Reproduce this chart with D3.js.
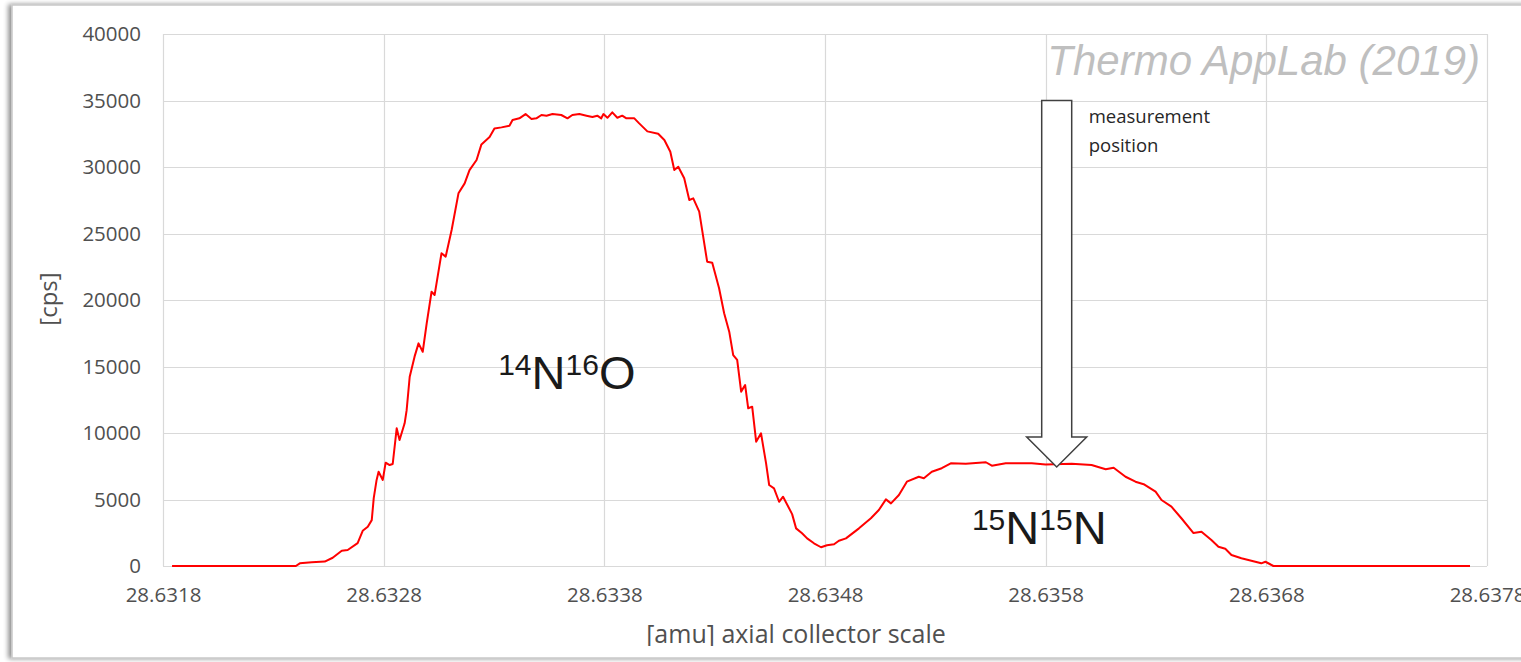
<!DOCTYPE html>
<html>
<head>
<meta charset="utf-8">
<script src="https://cdn.jsdelivr.net/npm/d3@7"></script>
<style>
  html, body { margin: 0; padding: 0; background: #fff; }
  svg { display: block; }
</style>
</head>
<body>
<div id="chart"></div>
<script>
// scan: axial collector position [amu] and intensity [cps]
const amu = [
  28.631841, 28.632402, 28.632420, 28.632474, 28.632533, 28.632569, 28.632610, 28.632637,
  28.632682, 28.632705, 28.632728, 28.632746, 28.632755, 28.632768, 28.632777, 28.632796,
  28.632809, 28.632827, 28.632841, 28.632859, 28.632872, 28.632895, 28.632904, 28.632918,
  28.632940, 28.632958, 28.632977, 28.632995, 28.633017, 28.633031, 28.633062, 28.633081,
  28.633108, 28.633139, 28.633167, 28.633189, 28.633221, 28.633243, 28.633280, 28.633302,
  28.633334, 28.633370, 28.633384, 28.633415, 28.633443, 28.633470, 28.633492, 28.633515,
  28.633538, 28.633565, 28.633605, 28.633633, 28.633655, 28.633687, 28.633719, 28.633746,
  28.633768, 28.633786, 28.633796, 28.633814, 28.633836, 28.633859, 28.633881, 28.633900,
  28.633936, 28.633958, 28.633995, 28.634044, 28.634072, 28.634099, 28.634117, 28.634135,
  28.634162, 28.634185, 28.634203, 28.634230, 28.634248, 28.634266, 28.634289, 28.634320,
  28.634343, 28.634366, 28.634384, 28.634402, 28.634420, 28.634438, 28.634452, 28.634470,
  28.634488, 28.634510, 28.634533, 28.634547, 28.634569, 28.634592, 28.634610, 28.634651,
  28.634669, 28.634696, 28.634719, 28.634750, 28.634782, 28.634809, 28.634841, 28.634863,
  28.634895, 28.634954, 28.635008, 28.635044, 28.635076, 28.635099, 28.635135, 28.635171,
  28.635225, 28.635248, 28.635284, 28.635329, 28.635370, 28.635438, 28.635529, 28.635556,
  28.635619, 28.635737, 28.635800, 28.635918, 28.636008, 28.636072, 28.636108, 28.636162,
  28.636207, 28.636244, 28.636298, 28.636325, 28.636370, 28.636415, 28.636470, 28.636506,
  28.636551, 28.636583, 28.636614, 28.636642, 28.636687, 28.636732, 28.636777, 28.636796,
  28.636832, 28.637723
];
const cps = [
  0, 0, 200, 280, 330, 620, 1150, 1200,
  1720, 2650, 2950, 3450, 5100, 6470, 7090, 6470,
  7770, 7590, 7670, 10350, 9470, 10730, 11700, 14230,
  15740, 16740, 16110, 18250, 20620, 20380, 23510, 23260,
  25260, 28020, 28770, 29770, 30530, 31700, 32250, 32900,
  32980, 33100, 33530, 33660, 33980, 33610, 33660, 33910,
  33860, 33980, 33910, 33660, 33910, 33980, 33860, 33760,
  33860, 33660, 33980, 33700, 34110, 33700, 33860, 33660,
  33660, 33280, 32680, 32500, 32030, 31150, 29770, 30020,
  29150, 27520, 27640, 26640, 24760, 22880, 22800, 20880,
  19000, 17620, 15860, 15490, 13110, 13610, 11860, 11980,
  9350, 9980, 7720, 6090, 5840, 4830, 5210, 3900,
  2830, 2460, 2080, 1710, 1410, 1560, 1630, 1900,
  2080, 2830, 3590, 4210, 5010, 4710, 5340, 6340,
  6710, 6600, 7090, 7350, 7720, 7680, 7800, 7540,
  7720, 7720, 7640, 7680, 7590, 7270, 7390, 6710,
  6340, 6150, 5590, 4960, 4460, 3590, 2480, 2580,
  1950, 1450, 1300, 830, 580, 400, 200, 320,
  0, 0
];

const xTicks = [28.6318, 28.6328, 28.6338, 28.6348, 28.6358, 28.6368, 28.6378];
const yTicks = [0, 5000, 10000, 15000, 20000, 25000, 30000, 35000, 40000];

// annotations
const peakLabels = [
  { pre: '14', a: 'N', post: '16', b: 'O', amu: 28.633630, cps: 13300 },
  { pre: '15', a: 'N', post: '15', b: 'N', amu: 28.635771, cps: 1650 }
];
const arrowAmu = 28.63585;
const arrowTop = 35000;
const arrowTip = 7450;

const W = 1521, H = 662;
const margin = { top: 34, right: 34, bottom: 96, left: 163 };
const font = '"Open Sans", "DejaVu Sans", sans-serif';

const svg = d3.select('#chart').append('svg')
  .attr('width', W)
  .attr('height', H);

const defs = svg.append('defs');
const shadow = defs.append('filter').attr('id', 'shadow')
  .attr('x', '-5%').attr('y', '-5%').attr('width', '110%').attr('height', '110%');
shadow.append('feGaussianBlur').attr('in', 'SourceAlpha').attr('stdDeviation', 2.5);
shadow.append('feOffset').attr('dx', -3).attr('dy', 0).attr('result', 'ob');
shadow.append('feComponentTransfer').append('feFuncA').attr('type', 'linear').attr('slope', 0.45);
const merge = shadow.append('feMerge');
merge.append('feMergeNode');
merge.append('feMergeNode').attr('in', 'SourceGraphic');

defs.append('clipPath').attr('id', 'cut')
  .append('rect').attr('x', 0).attr('y', 0).attr('width', W).attr('height', 646);

// frame of the pasted chart
svg.append('rect')
  .attr('x', 12).attr('y', 5)
  .attr('width', 1530).attr('height', 653)
  .attr('fill', '#fff')
  .attr('stroke', '#c8c8c8')
  .attr('stroke-width', 1.5)
  .attr('filter', 'url(#shadow)');

const x = d3.scaleLinear()
  .domain([28.6318, 28.6378])
  .range([margin.left, margin.left + 1324]);
const y = d3.scaleLinear()
  .domain([0, 40000])
  .range([566, margin.top]);

const grid = svg.append('g');
grid.selectAll('.hg')
  .data(yTicks)
  .enter()
  .append('line')
  .attr('x1', x.range()[0]).attr('x2', x.range()[1])
  .attr('y1', (d) => Math.round(y(d)) + 0.5)
  .attr('y2', (d) => Math.round(y(d)) + 0.5)
  .attr('stroke', '#d9d9d9')
  .attr('stroke-width', 1.2);
grid.selectAll('.vg')
  .data(xTicks)
  .enter()
  .append('line')
  .attr('x1', (d) => Math.round(x(d)) + 0.5)
  .attr('x2', (d) => Math.round(x(d)) + 0.5)
  .attr('y1', y.range()[1]).attr('y2', y.range()[0])
  .attr('stroke', '#d9d9d9')
  .attr('stroke-width', 1.2);

const xAxis = d3.axisBottom(x)
  .tickValues(xTicks)
  .tickSize(0)
  .tickPadding(21)
  .tickFormat(d3.format('.4f'));
const yAxis = d3.axisLeft(y)
  .tickValues(yTicks)
  .tickSize(0)
  .tickPadding(22)
  .tickFormat(d3.format('d'));

const gx = svg.append('g')
  .attr('transform', `translate(0,${y(0)})`)
  .call(xAxis);
const gy = svg.append('g')
  .attr('transform', `translate(${margin.left},0)`)
  .call(yAxis);
[gx, gy].forEach((g) => {
  g.select('.domain').remove();
  g.selectAll('text')
    .attr('fill', '#505050')
    .style('font-family', font)
    .style('font-size', '20.5px');
});

svg.append('text')
  .attr('transform', `translate(57,${(y(0) + y(40000)) / 2 - 1}) rotate(-90)`)
  .attr('text-anchor', 'middle')
  .attr('fill', '#505050')
  .style('font-family', font)
  .style('font-size', '24px')
  .text('[cps]');

svg.append('text')
  .attr('x', 796)
  .attr('y', 643)
  .attr('text-anchor', 'middle')
  .attr('fill', '#505050')
  .attr('clip-path', 'url(#cut)')
  .style('font-family', font)
  .style('font-size', '25px')
  .text('[amu] axial collector scale');

const data = amu.map((d, i) => ({ amu: d, cps: cps[i] }));
const line = d3.line()
  .x((d) => x(d.amu))
  .y((d) => y(d.cps));
svg.append('path')
  .attr('d', line(data))
  .attr('fill', 'none')
  .attr('stroke', '#ff0000')
  .attr('stroke-width', 2)
  .attr('stroke-linejoin', 'round');

// measurement position arrow
const ax = x(arrowAmu);
const tipY = y(arrowTip);
const headY = tipY - 30;
const arrowPts = [
  [ax - 15, y(arrowTop)], [ax + 15, y(arrowTop)], [ax + 15, headY], [ax + 30, headY],
  [ax, tipY], [ax - 30, headY], [ax - 15, headY]
];
svg.append('path')
  .attr('d', d3.line()(arrowPts) + 'Z')
  .attr('fill', '#fff')
  .attr('stroke', '#404040')
  .attr('stroke-width', 1.5);

const note = svg.append('text')
  .attr('x', ax + 32)
  .attr('fill', '#262626')
  .style('font-family', font)
  .style('font-size', '18.5px');
note.append('tspan').attr('x', ax + 32).attr('y', 123).text('measurement');
note.append('tspan').attr('x', ax + 32).attr('y', 152).text('position');

svg.append('text')
  .attr('x', 1480)
  .attr('y', 75)
  .attr('text-anchor', 'end')
  .attr('fill', '#bfbfbf')
  .style('font-family', '"Liberation Sans", Arial, sans-serif')
  .style('font-style', 'italic')
  .style('font-size', '42px')
  .text('Thermo AppLab (2019)');

peakLabels.forEach((p) => {
  const t = svg.append('text')
    .attr('x', x(p.amu))
    .attr('y', y(p.cps))
    .attr('text-anchor', 'middle')
    .attr('fill', '#1a1a1a')
    .style('font-family', '"Liberation Sans", Arial, sans-serif');
  t.append('tspan').attr('dy', -14).style('font-size', '30px').text(p.pre);
  t.append('tspan').attr('dy', 14).style('font-size', '47px').text(p.a);
  t.append('tspan').attr('dy', -14).style('font-size', '30px').text(p.post);
  t.append('tspan').attr('dy', 14).style('font-size', '47px').text(p.b);
});
</script>
</body>
</html>
